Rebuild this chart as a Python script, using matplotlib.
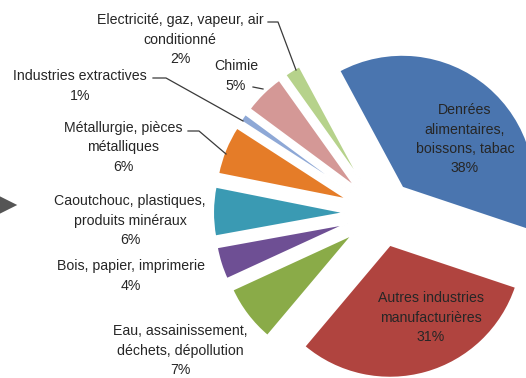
import matplotlib.pyplot as plt

# Répartition par secteur (en %)
secteurs = [
    "Denrées\nalimentaires,\nboissons, tabac",
    "Autres industries\nmanufacturières",
    "Eau, assainissement,\ndéchets, dépollution",
    "Bois, papier, imprimerie",
    "Caoutchouc, plastiques,\nproduits minéraux",
    "Métallurgie, pièces\nmétalliques",
    "Industries extractives",
    "Chimie",
    "Electricité, gaz, vapeur, air\nconditionné",
]
parts = [38, 31, 7, 4, 6, 6, 1, 5, 2]
couleurs = ["#4a75af", "#b0443f", "#8aab48", "#6e4f94", "#3a9ab3",
            "#e57c28", "#8ea8d6", "#d49896", "#b6d28b"]

W, H = 526, 378
fig = plt.figure(figsize=(W / 100, H / 100), dpi=100)
ax = fig.add_axes([0, 0, 1, 1])

# coordonnées en pixels, origine en haut à gauche
def py(y):
    return H - y

centre = (381, py(213))
rayon = 133
ecarts = [33, 33, 35, 35, 35, 35, 35, 35, 35]

ax.pie(parts, colors=couleurs, startangle=118.3, counterclock=False,
       radius=rayon, center=centre, explode=ecarts, frame=True,
       wedgeprops=dict(edgecolor="white", linewidth=1.5))

ax.set_xlim(0, W)
ax.set_ylim(0, H)
ax.set_aspect("auto")
ax.axis("off")

# position (x, y de la première ligne) de chaque étiquette
pos = [(465, 110), (431, 298), (180, 331), (131, 266), (130, 201),
       (123, 128), (80, 76), (236, 66), (180, 20)]
pas = 19.5  # interligne en pixels

for nom, p, (x, y) in zip(secteurs, parts, pos):
    lignes = nom.split("\n") + [f"{p}%"]
    for i, ligne in enumerate(lignes):
        ax.text(x, py(y + i * pas), ligne, ha="center", va="center",
                fontsize=10.2, family="Liberation Sans", color="#262626")

# lignes de rappel
rappels = [
    [(268, 22), (278, 22), (296, 70)],
    [(153, 78), (166, 78), (243, 121)],
    [(188, 131), (199, 131), (226, 154)],
    [(253, 87), (263, 89)],
]
for pts in rappels:
    xs = [a for a, b in pts]
    ys = [py(b) for a, b in pts]
    ax.plot(xs, ys, color="#3a3a3a", lw=0.9)

# flèche venant du graphique voisin
ax.annotate("", xy=(20, py(205)), xytext=(-10, py(205)),
            arrowprops=dict(arrowstyle="-|>,head_length=1.4,head_width=0.7",
                            color="#555555", lw=0))

fig.savefig("out.png", dpi=100)
